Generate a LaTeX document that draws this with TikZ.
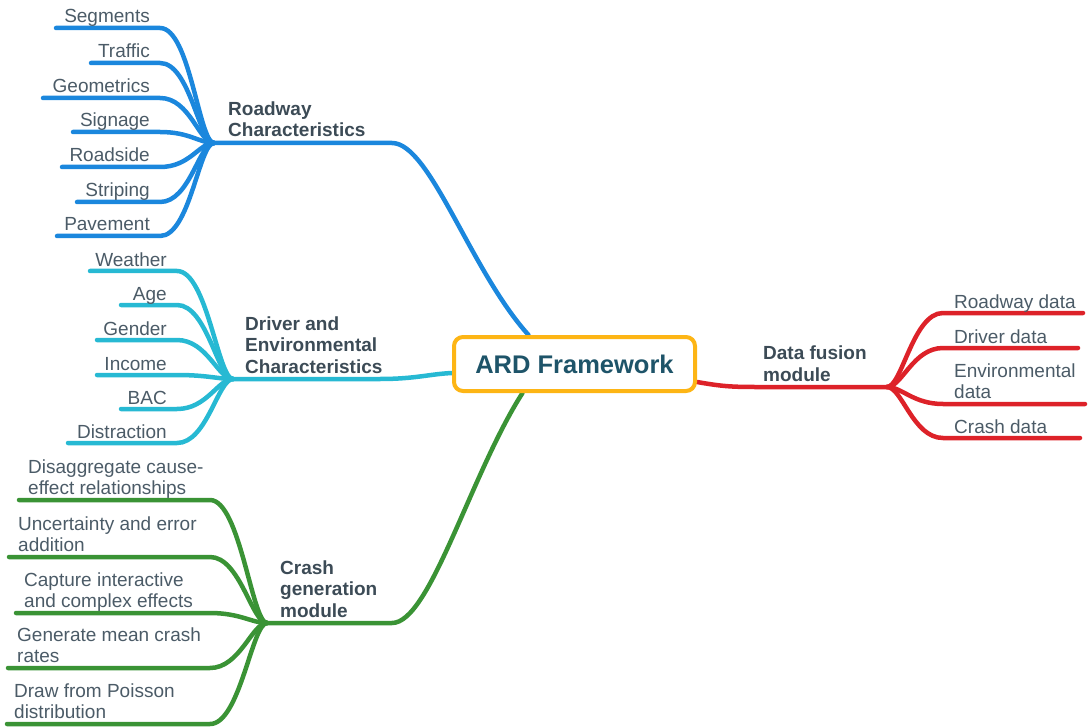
\documentclass[tikz,border=0pt]{standalone}
\usepackage{fontspec}
\setmainfont{Liberation Sans}
\usepackage{xcolor}
\usepackage{tikz}
\usetikzlibrary{positioning,backgrounds}

\definecolor{roadblue}{HTML}{1B87DD}
\definecolor{drivercyan}{HTML}{27B9D3}
\definecolor{crashgreen}{HTML}{3A9335}
\definecolor{fusionred}{HTML}{DD2229}
\definecolor{ardorange}{HTML}{FDB515}
\definecolor{ardteal}{HTML}{1E5469}
\definecolor{leafgrey}{HTML}{4B5B67}
\definecolor{labelgrey}{HTML}{3C4B56}

\tikzset{
  branch/.style={line width=4.5pt, line cap=round},
  leaf/.style={font=\fontsize{19}{21}\selectfont, text=leafgrey, inner sep=0pt, align=left},
  hublabel/.style={font=\fontsize{19}{21.5}\selectfont\bfseries, text=labelgrey, inner sep=0pt, align=left, anchor=base west},
}

\begin{document}
\begin{tikzpicture}[x=1pt, y=-1pt]
\useasboundingbox (0,0) rectangle (1089,727);
\node [draw=ardorange, line width=4pt, rounded corners=9pt, fill=white, minimum width=241pt, minimum height=54pt, inner sep=0pt, font=\fontsize{25.5}{30}\selectfont\bfseries, text=ardteal] (ard) at (574.5,364) {ARD Framework};
\coordinate (road) at (214,143);
\coordinate (driver) at (233,379);
\coordinate (crash) at (267,623);
\coordinate (fusion) at (887,387);
\node [hublabel] (roadlabel) at (228,137) {Roadway\\Characteristics};
\node [hublabel] (driverlabel) at (245,373) {Driver and\\Environmental\\Characteristics};
\node [hublabel] (crashlabel) at (280,617) {Crash\\generation\\module};
\node [hublabel] (fusionlabel) at (763,381) {Data fusion\\module};
\begin{scope}[on background layer]
\draw [branch, roadblue] (road) -- (392,143) .. controls (430,143) and (470,270) .. ([xshift=-46pt]ard.north);
\draw [branch, drivercyan] (driver) -- (380,379) .. controls (415,379) and (430,374) .. ([yshift=-9pt]ard.west);
\draw [branch, crashgreen] (crash) -- (392,623) .. controls (430,623) and (470,475) .. ([xshift=-52pt]ard.south);
\draw [branch, fusionred] ([yshift=-18pt]ard.east) .. controls (720,386) and (730,387) .. (755,387) -- (fusion);
\end{scope}
\draw [branch, roadblue] (road) .. controls (199,143) and (190,28) .. (160,28) -- (56,28) coordinate (segments);
\draw [branch, roadblue] (road) .. controls (199,143) and (190,63) .. (160,63) -- (91,63) coordinate (traffic);
\draw [branch, roadblue] (road) .. controls (199,143) and (190,98) .. (160,98) -- (43,98) coordinate (geometrics);
\draw [branch, roadblue] (road) .. controls (199,143) and (190,132) .. (160,132) -- (73,132) coordinate (signage);
\draw [branch, roadblue] (road) .. controls (199,143) and (190,167) .. (160,167) -- (62,167) coordinate (roadside);
\draw [branch, roadblue] (road) .. controls (199,143) and (190,202) .. (160,202) -- (77,202) coordinate (striping);
\draw [branch, roadblue] (road) .. controls (199,143) and (190,236) .. (160,236) -- (57,236) coordinate (pavement);
\node [leaf, anchor=base east] (segmentstext) at (150,23) {Segments};
\node [leaf, anchor=base east] (traffictext) at (150,58) {Traffic};
\node [leaf, anchor=base east] (geometricstext) at (150,93) {Geometrics};
\node [leaf, anchor=base east] (signagetext) at (150,127) {Signage};
\node [leaf, anchor=base east] (roadsidetext) at (150,162) {Roadside};
\node [leaf, anchor=base east] (stripingtext) at (150,197) {Striping};
\node [leaf, anchor=base east] (pavementtext) at (150,231) {Pavement};
\draw [branch, drivercyan] (driver) .. controls (218,379) and (207,271) .. (177,271) -- (90,271) coordinate (weather);
\draw [branch, drivercyan] (driver) .. controls (218,379) and (207,305) .. (177,305) -- (121,305) coordinate (age);
\draw [branch, drivercyan] (driver) .. controls (218,379) and (207,340) .. (177,340) -- (97,340) coordinate (gender);
\draw [branch, drivercyan] (driver) .. controls (218,379) and (207,375) .. (177,375) -- (97,375) coordinate (income);
\draw [branch, drivercyan] (driver) .. controls (218,379) and (207,409) .. (177,409) -- (121,409) coordinate (bac);
\draw [branch, drivercyan] (driver) .. controls (218,379) and (207,443) .. (177,443) -- (68,443) coordinate (distraction);
\node [leaf, anchor=base east] (weathertext) at (167,266) {Weather};
\node [leaf, anchor=base east] (agetext) at (167,300) {Age};
\node [leaf, anchor=base east] (gendertext) at (167,335) {Gender};
\node [leaf, anchor=base east] (incometext) at (167,370) {Income};
\node [leaf, anchor=base east] (bactext) at (167,404) {BAC};
\node [leaf, anchor=base east] (distractiontext) at (167,438) {Distraction};
\draw [branch, crashgreen] (crash) .. controls (252,623) and (240,500) .. (210,500) -- (19,500) coordinate (disaggregate);
\draw [branch, crashgreen] (crash) .. controls (252,623) and (240,557) .. (210,557) -- (9,557) coordinate (uncertainty);
\draw [branch, crashgreen] (crash) .. controls (252,623) and (240,613) .. (210,613) -- (16,613) coordinate (capture);
\draw [branch, crashgreen] (crash) .. controls (252,623) and (240,668) .. (210,668) -- (8,668) coordinate (generate);
\draw [branch, crashgreen] (crash) .. controls (252,623) and (240,724) .. (210,724) -- (7,724) coordinate (poisson);
\node [leaf, anchor=base west] (disaggregatetext) at (28,494) {Disaggregate cause-\\effect relationships};
\node [leaf, anchor=base west] (uncertaintytext) at (18,551) {Uncertainty and error\\addition};
\node [leaf, anchor=base west] (capturetext) at (24,607) {Capture interactive\\and complex effects};
\node [leaf, anchor=base west] (generatetext) at (17,662) {Generate mean crash\\rates};
\node [leaf, anchor=base west] (poissontext) at (14,718) {Draw from Poisson\\distribution};
\draw [branch, fusionred] (fusion) .. controls (902,387) and (913,313) .. (943,313) -- (1083,313) coordinate (roadwaydata);
\draw [branch, fusionred] (fusion) .. controls (902,387) and (913,348) .. (943,348) -- (1078,348) coordinate (driverdata);
\draw [branch, fusionred] (fusion) .. controls (902,387) and (913,404) .. (943,404) -- (1085,404) coordinate (envdata);
\draw [branch, fusionred] (fusion) .. controls (902,387) and (913,438) .. (943,438) -- (1080,438) coordinate (crashdata);
\node [leaf, anchor=base west] (roadwaydatatext) at (954,308) {Roadway data};
\node [leaf, anchor=base west] (driverdatatext) at (954,343) {Driver data};
\node [leaf, anchor=base west] (envdatatext) at (954,398) {Environmental\\data};
\node [leaf, anchor=base west] (crashdatatext) at (954,433) {Crash data};
\end{tikzpicture}
\end{document}
